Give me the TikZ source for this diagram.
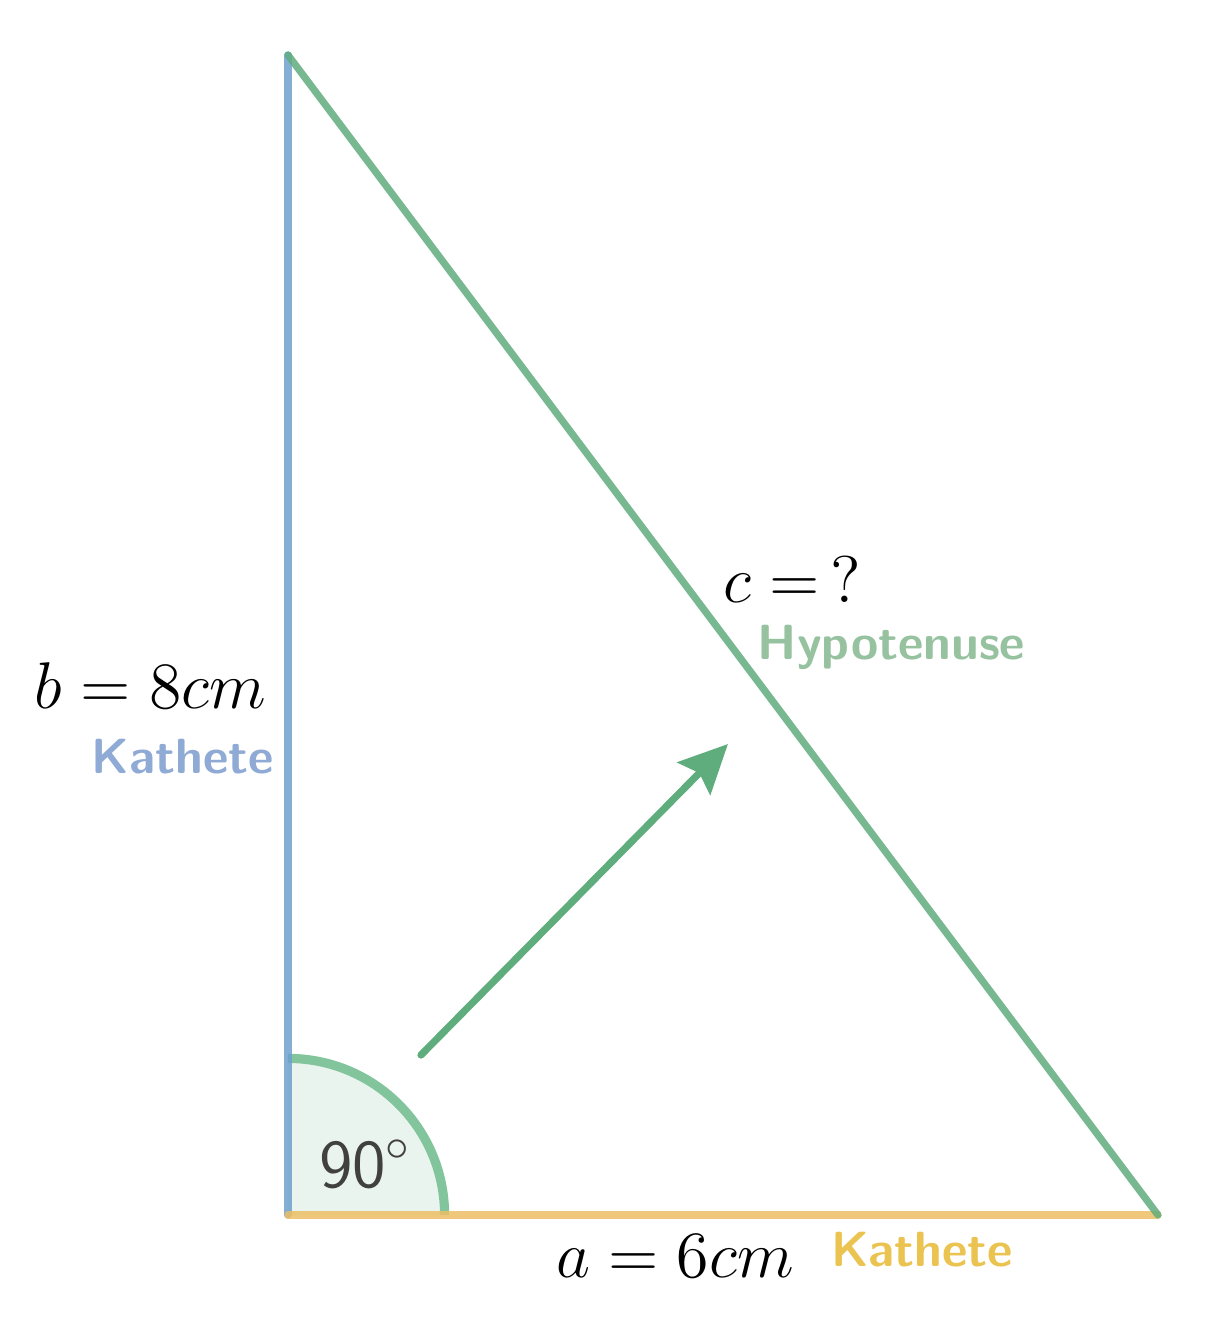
\documentclass[tikz,border=0pt]{standalone}
\usetikzlibrary{arrows.meta}
\definecolor{blueline}{RGB}{110,160,205}
\definecolor{greenline}{RGB}{95,172,125}
\definecolor{yellowline}{RGB}{236,190,100}
\definecolor{arcline}{RGB}{130,196,155}
\definecolor{arcfill}{RGB}{234,244,238}
\definecolor{bluetext}{RGB}{143,170,212}
\definecolor{greentext}{RGB}{150,194,160}
\definecolor{yellowtext}{RGB}{234,195,80}
\definecolor{angtext}{RGB}{64,64,64}
\tikzset{
  side/.style={line width=1.4pt, line cap=round, draw opacity=0.85},
  mathlbl/.style={inner sep=0pt, font=\fontsize{12.2}{15}\selectfont, scale=1.08, transform shape},
  namelbl/.style={inner sep=0pt, font=\fontsize{9.7}{12}\selectfont\sffamily\bfseries},
}
\begin{document}
\begin{tikzpicture}
\useasboundingbox (-1.986,-0.724) rectangle (6.490,8.379);
\coordinate (C) at (0,0);
\coordinate (B) at (6,0);
\coordinate (A) at (0,8);
\coordinate (s) at (0.917,1.103);
\coordinate (t) at (3.034,3.248);
% right angle sector
\fill[arcfill] (C) -- (1.08,0) arc[start angle=0, end angle=90, radius=1.08] -- cycle;
\draw[arcline, line width=1.8pt] (1.08,0) arc[start angle=0, end angle=90, radius=1.08];
% sides
\draw[side, blueline] (C) -- (A);
\draw[side, yellowline] (C) -- (B);
\draw[side, greenline] (A) -- (B);
% arrow
\draw[greenline, line width=1.4pt, line cap=round, -{Stealth[length=9.5pt, width=9pt, inset=1.5pt]}] (s) -- (t);
% labels
\node[mathlbl, anchor=base east] (lb) at (-0.145,3.49) {$b = 8cm$};
\node[namelbl, bluetext, anchor=base east] (kb) at (-0.09,3.048) {Kathete};
\node[mathlbl, anchor=base west] (lc) at (2.993,4.221) {$c = \,?$};
\node[namelbl, greentext, anchor=base west] (kc) at (3.234,3.828) {Hypotenuse};
\node[mathlbl, anchor=base west] (la) at (1.841,-0.434) {$a = 6cm$};
\node[namelbl, yellowtext, anchor=base west] (ka) at (3.738,-0.352) {Kathete};
\node[inner sep=0pt, anchor=base west, text=angtext, font=\fontsize{13.4}{16}\selectfont\sffamily] (ang) at (0.207,0.193) {90$^{\circ}$};
\end{tikzpicture}
\end{document}
